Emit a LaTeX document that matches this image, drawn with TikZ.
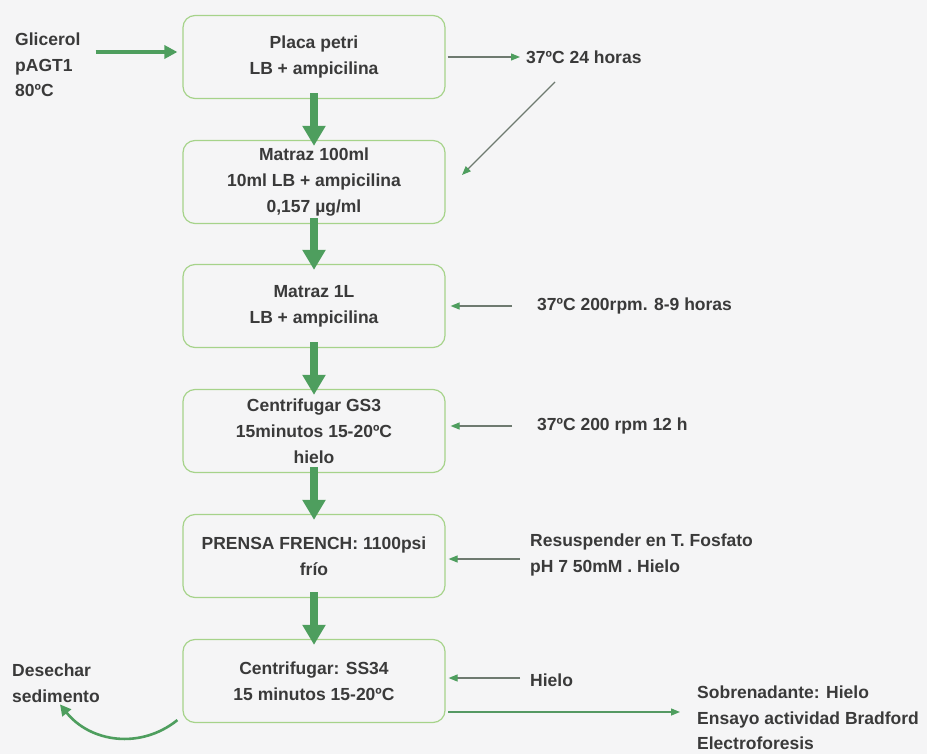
\documentclass[tikz,border=0pt]{standalone}
\usepackage{fontspec}
\setmainfont{Liberation Sans}
\usetikzlibrary{arrows.meta}
\definecolor{bg}{HTML}{F5F5F6}
\definecolor{boxline}{HTML}{A6D38A}
\definecolor{thickgreen}{HTML}{4E9E5E}
\definecolor{thingray}{HTML}{6E7A70}
\definecolor{txt}{HTML}{3A3A3A}
\tikzset{
  box/.style={draw=boxline, line width=1.2pt, rounded corners=12pt, minimum width=262pt, minimum height=83pt,
    align=center, text=txt, font=\bfseries\fontsize{17.5}{26}\selectfont, inner sep=2pt},
  lbl/.style={anchor=west, align=left, text=txt, font=\bfseries\fontsize{17.5}{25.5}\selectfont, inner sep=0pt},
  bigarrow/.style={draw=thickgreen, line width=8pt, -{Triangle[length=20pt,width=22pt]}},
  midarrow/.style={draw=thickgreen, line width=4pt, -{Triangle[length=13pt,width=13pt]}},
  thinarrow/.style={draw=thingray, line width=1.2pt, -{Triangle[length=9pt,width=7pt,color=thickgreen]}},
  greenthin/.style={draw=thickgreen!85!gray, line width=1.4pt, -{Triangle[length=9pt,width=7pt,color=thickgreen]}},
}
\begin{document}
\begin{tikzpicture}[x=1pt,y=-1pt]
\fill[bg] (0,0) rectangle (927,754);
\useasboundingbox (0,0) rectangle (927,754);

\node[box] (b1) at (314,57) {Placa petri\\LB + ampicilina};
\node[box] (b2) at (314,182) {Matraz 100ml\\10ml LB + ampicilina\\0,157 µg/ml};
\node[box] (b3) at (314,306) {Matraz 1L\\LB + ampicilina};
\node[box] (b4) at (314,431) {Centrifugar GS3\\15minutos 15-20ºC\\hielo};
\node[box] (b5) at (314,556) {PRENSA FRENCH: 1100psi\\frío};
\node[box] (b6) at (314,681) {Centrifugar: SS34\\15 minutos 15-20ºC};

\node[lbl] (g) at (15,65) {Glicerol\\pAGT1\\80ºC};
\node[lbl] (t1) at (526,57) {37ºC 24 horas};
\node[lbl] (t3) at (537,306) {37ºC 200rpm. 8-9 horas};
\node[lbl] (t4) at (537,426) {37ºC 200 rpm 12 h};
\node[lbl] (t5) at (530,555) {Resuspender en T. Fosfato\\pH 7 50mM . Hielo};
\node[lbl] (t6) at (530,680) {Hielo};
\node[lbl] (t7) at (697,718) {Sobrenadante: Hielo\\Ensayo actividad Bradford\\Electroforesis};
\node[lbl] (d) at (12,683) {Desechar\\sedimento};

\foreach \a/\b in {b1/b2,b2/b3,b3/b4,b4/b5,b5/b6}
  \draw[bigarrow] ([yshift=6pt]\a.south) -- ([yshift=-6pt]\b.north);

\draw[midarrow] ([xshift=15pt,yshift=5pt]g.east |- b1.west) -- ([xshift=-5pt,yshift=5pt]b1.west);

\draw[thinarrow] ([xshift=2pt]b1.east) -- ([xshift=-6pt]t1.west);
\coordinate (d1) at (555,82);
\coordinate (d2) at (462,175);
\draw[thinarrow] (d1) -- (d2);
\draw[thinarrow] ([xshift=-25pt]t3.west) -- ([xshift=5pt]b3.east);
\draw[thinarrow] ([xshift=-25pt]t4.west) -- ([xshift=5pt]b4.east |- t4.west);
\draw[thinarrow] ([xshift=-10pt,yshift=-4pt]t5.west) -- ([xshift=3pt,yshift=-4pt]b5.east |- t5.west);
\draw[thinarrow] ([xshift=-10pt,yshift=2pt]t6.west) -- ([xshift=3pt,yshift=2pt]b6.east |- t6.west);
\coordinate (s1) at (448,712);
\draw[greenthin] (s1) -- ([xshift=-17pt]t7.west |- s1);

\draw[draw=thickgreen, line width=2.6pt, -{Triangle[length=11pt,width=11pt]}]
  ([xshift=-5pt,yshift=3pt]b6.south west) .. controls (140,750) and (90,742) .. ([xshift=48pt,yshift=-2pt]d.south west);
\end{tikzpicture}
\end{document}
